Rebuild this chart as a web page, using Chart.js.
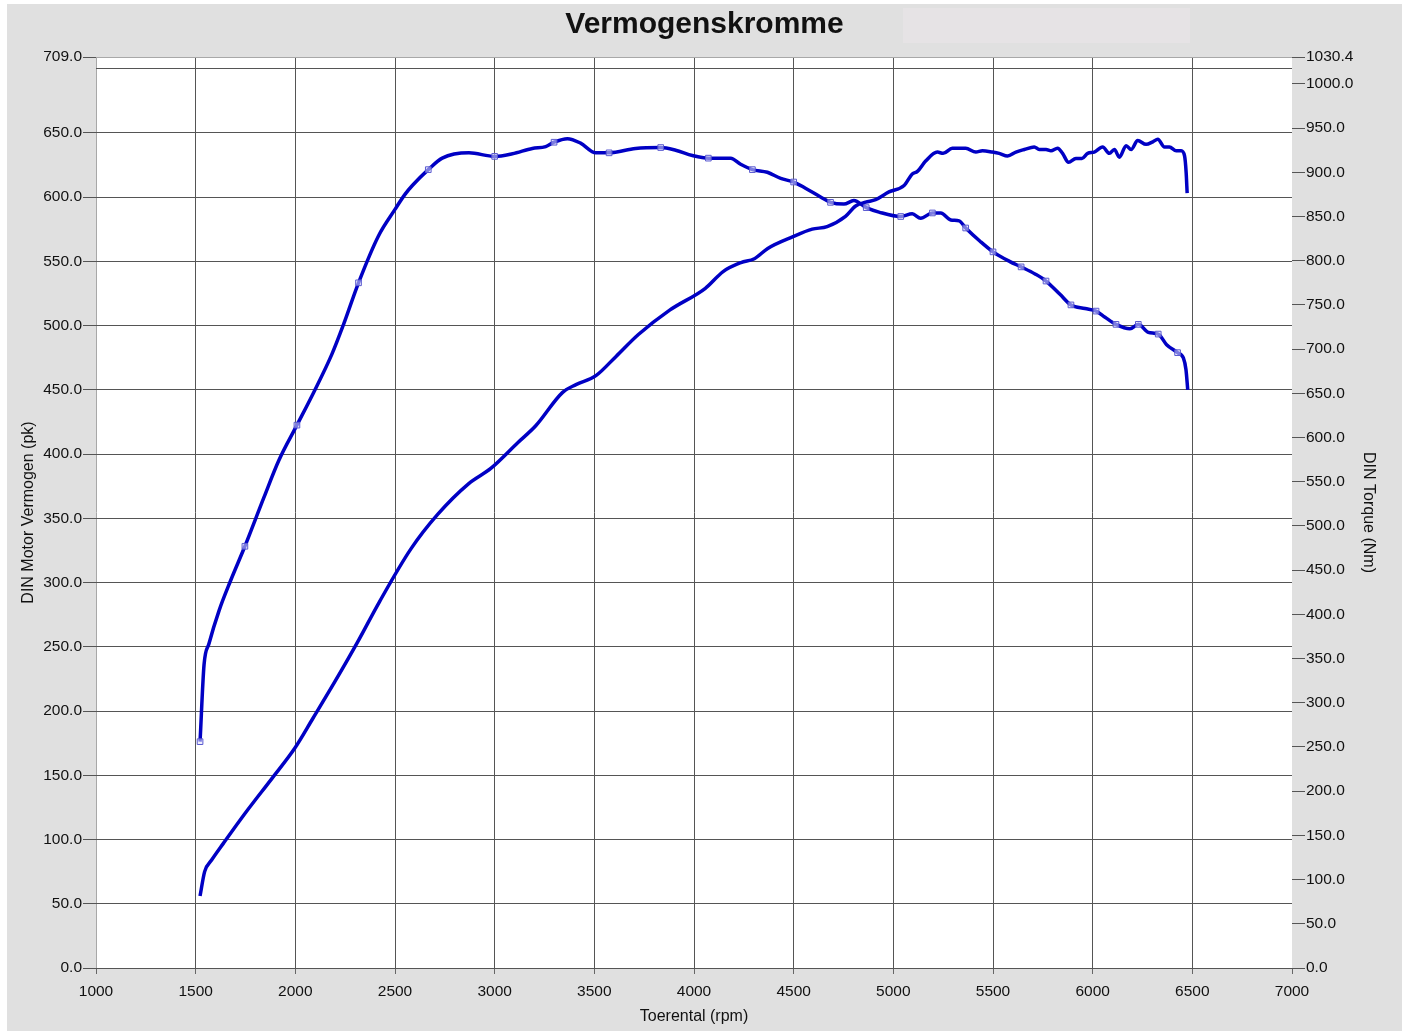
<!DOCTYPE html>
<html>
<head>
<meta charset="utf-8">
<script src="https://cdn.jsdelivr.net/npm/chart.js@4.4.1/dist/chart.umd.min.js"></script>
<style>
  body { margin: 0; background: #fff; }
  #chart { position: absolute; left: 7px; top: 4px; background: #e0e0e0; }
</style>
</head>
<body>
<canvas id="chart" width="1395" height="1027"></canvas>
<script>
// tick labels
const xTicks = [1000, 1500, 2000, 2500, 3000, 3500, 4000, 4500, 5000, 5500, 6000, 6500, 7000];
const leftTicks = [0, 50, 100, 150, 200, 250, 300, 350, 400, 450, 500, 550, 600, 650, 709];
const leftGrid = [0, 50, 100, 150, 200, 250, 300, 350, 400, 450, 500, 550, 600, 650, 700, 709];
const rightTicks = [0, 50, 100, 150, 200, 250, 300, 350, 400, 450, 500, 550, 600, 650, 700, 750,
  800, 850, 900, 950, 1000, 1030.4];

// DIN Motor Vermogen (pk), left axis
const powerRpm = [1522, 1545, 1580, 1639, 1751, 1885, 1997, 2087, 2199, 2310, 2422, 2579, 2714, 2870, 2982,
  3117, 3206, 3341, 3408, 3508, 3609, 3721, 3878, 4057, 4146, 4236, 4303, 4370, 4494, 4593, 4668,
  4760, 4811, 4861, 4911, 4978, 5054, 5095, 5121, 5162, 5221, 5250, 5296, 5363, 5414, 5447, 5497,
  5531, 5573, 5615, 5657, 5707, 5732, 5766, 5791, 5824, 5849, 5879, 5916, 5946, 5975, 6008, 6050,
  6084, 6109, 6134, 6168, 6193, 6226, 6268, 6302, 6327, 6360, 6385, 6419, 6444, 6461, 6469, 6474];
const powerPk = [56, 75, 84, 97, 121, 148, 171, 194, 223, 253, 285, 326, 353, 377, 389,
  409, 422, 448, 454, 461, 476, 493, 512, 529, 542, 549, 552, 560, 569, 575, 577,
  585, 593, 596, 598, 604, 609, 618, 620, 628, 635, 634, 638, 638, 635, 636, 635,
  634, 632, 635, 637, 639, 637, 637, 636, 638, 634, 627, 630, 630, 634, 635, 639,
  634, 637, 631, 640, 637, 644, 641, 643, 645, 639, 639, 636, 636, 632, 619, 603];

// DIN Torque (Nm), right axis
const torqueRpm = [1522, 1542, 1567, 1617, 1675, 1747, 1842, 1917, 2008, 2092, 2183, 2242, 2317, 2417,
  2500, 2550, 2587, 2667, 2737, 2871, 3000, 3089, 3189, 3256, 3298, 3365, 3431, 3507, 3574, 3707,
  3833, 3908, 3992, 4072, 4184, 4234, 4293, 4368, 4435, 4500, 4559, 4643, 4685, 4752, 4802, 4864,
  4928, 5037, 5095, 5137, 5196, 5238, 5288, 5330, 5363, 5435, 5500, 5585, 5641, 5711, 5766, 5836,
  5891, 5962, 6017, 6062, 6117, 6187, 6229, 6279, 6329, 6371, 6426, 6455, 6468, 6477];
const torqueNm = [256, 343, 367, 404, 438, 477, 532, 574, 614, 651, 694, 728, 775, 828,
  858, 875, 885, 903, 916, 922, 918, 921, 927, 929, 934, 938, 933, 922, 922, 927,
  928, 925, 919, 916, 916, 909, 903, 900, 893, 889, 882, 871, 866, 864, 868, 860,
  855, 850, 853, 848, 854, 854, 846, 845, 837, 822, 810, 799, 793, 785, 777, 762,
  750, 746, 743, 736, 728, 723, 728, 719, 717, 705, 696, 690, 677, 654];

// sample markers on the torque curve
const markRpm = [1522, 1747, 2008, 2317, 2667, 3000, 3298, 3574, 3833, 4072, 4293, 4500, 4685,
  4864, 5037, 5196, 5363, 5500, 5641, 5766, 5891, 6017, 6117, 6229, 6329, 6426];
const markNm = [256, 477, 614, 775, 903, 918, 934, 922, 928, 916, 903, 889, 866,
  860, 850, 854, 837, 810, 793, 777, 750, 743, 728, 728, 717, 696];

const pts = (xs, ys) => xs.map((x, i) => ({ x, y: ys[i] }));
const font = 'Liberation Sans, Arial, sans-serif';
const asTicks = (list) => (scale) => { scale.ticks = list.map(v => ({ value: v })); };

const plotBg = {
  id: 'plotBg',
  beforeDraw(chart) {
    const { ctx, chartArea: a } = chart;
    ctx.save();
    ctx.fillStyle = '#e6e3e5';
    ctx.fillRect(896, 4, 287, 35);
    ctx.fillStyle = '#fff';
    ctx.fillRect(a.left, a.top, a.right - a.left, a.bottom - a.top);
    ctx.restore();
  }
};

new Chart(document.getElementById('chart'), {
  type: 'line',
  data: {
    datasets: [
      {
        label: 'markers',
        data: pts(markRpm, markNm),
        yAxisID: 'y1',
        showLine: false,
        pointStyle: 'rect',
        pointRadius: 4,
        pointBorderWidth: 1,
        pointBorderColor: '#5a5ad0',
        pointBackgroundColor: 'rgba(225,225,250,0.55)',
        order: 0,
      },
      {
        label: 'DIN Torque (Nm)',
        data: pts(torqueRpm, torqueNm),
        yAxisID: 'y1',
        borderColor: '#0000c4',
        borderWidth: 3.5,
        pointRadius: 0,
        cubicInterpolationMode: 'monotone',
        order: 1,
      },
      {
        label: 'DIN Motor Vermogen (pk)',
        data: pts(powerRpm, powerPk),
        yAxisID: 'y',
        borderColor: '#0000c4',
        borderWidth: 3.5,
        pointRadius: 0,
        cubicInterpolationMode: 'monotone',
        order: 1,
      },
    ],
  },
  options: {
    responsive: false,
    animation: false,
    layout: { padding: 0 },
    plugins: {
      legend: { display: false },
      tooltip: { enabled: false },
      title: {
        display: true,
        text: 'Vermogenskromme',
        color: '#111',
        font: { family: font, size: 30, weight: 'bold' },
        padding: { top: 3, bottom: 14 },
      },
    },
    scales: {
      x: {
        type: 'linear',
        min: 1000,
        max: 7000,
        afterBuildTicks: asTicks(xTicks),
        afterFit: (s) => { s.height = 63; },
        border: { display: false },
        grid: {
          color: (c) => c.tick.value === 1000 ? '#a8a8a8' : (c.tick.value === 7000 ? 'rgba(0,0,0,0)' : '#555'),
          tickColor: '#666',
          tickLength: 6,
        },
        ticks: { color: '#111', font: { family: font, size: 15.5 }, padding: 8, maxRotation: 0, autoSkip: false, callback: (v) => String(v) },
        title: { display: true, text: 'Toerental (rpm)', color: '#111', font: { family: font, size: 16 }, padding: { top: 0, bottom: 5 } },
      },
      yGrid: {
        type: 'linear',
        position: 'left',
        min: 0,
        max: 709,
        afterBuildTicks: asTicks(leftGrid),
        afterFit: (s) => { s.width = 0; },
        border: { display: false },
        grid: { color: (c) => c.tick.value === 709 ? '#a8a8a8' : '#555', drawTicks: false },
        ticks: { display: false },
      },
      y: {
        type: 'linear',
        position: 'left',
        min: 0,
        max: 709,
        afterBuildTicks: asTicks(leftTicks),
        afterFit: (s) => { s.width = 89; },
        border: { display: false },
        grid: { drawOnChartArea: false, tickColor: '#555', tickLength: 13 },
        ticks: { color: '#111', font: { family: font, size: 15.5 }, padding: 1, autoSkip: false, callback: (v) => v.toFixed(1) },
        title: { display: true, text: 'DIN Motor Vermogen (pk)', color: '#111', font: { family: font, size: 16 }, padding: { top: 12, bottom: 0 } },
      },
      y1: {
        type: 'linear',
        position: 'right',
        min: 0,
        max: 1030.4,
        afterBuildTicks: asTicks(rightTicks),
        afterFit: (s) => { s.width = 110; },
        border: { display: false },
        grid: { drawOnChartArea: false, tickColor: '#555', tickLength: 13 },
        ticks: { color: '#111', font: { family: font, size: 15.5 }, padding: 1, autoSkip: false, callback: (v) => v.toFixed(1) },
        title: { display: true, text: 'DIN Torque (Nm)', color: '#111', font: { family: font, size: 16 }, padding: { top: 24, bottom: 0 } },
      },
    },
  },
  plugins: [plotBg],
});
</script>
</body>
</html>
